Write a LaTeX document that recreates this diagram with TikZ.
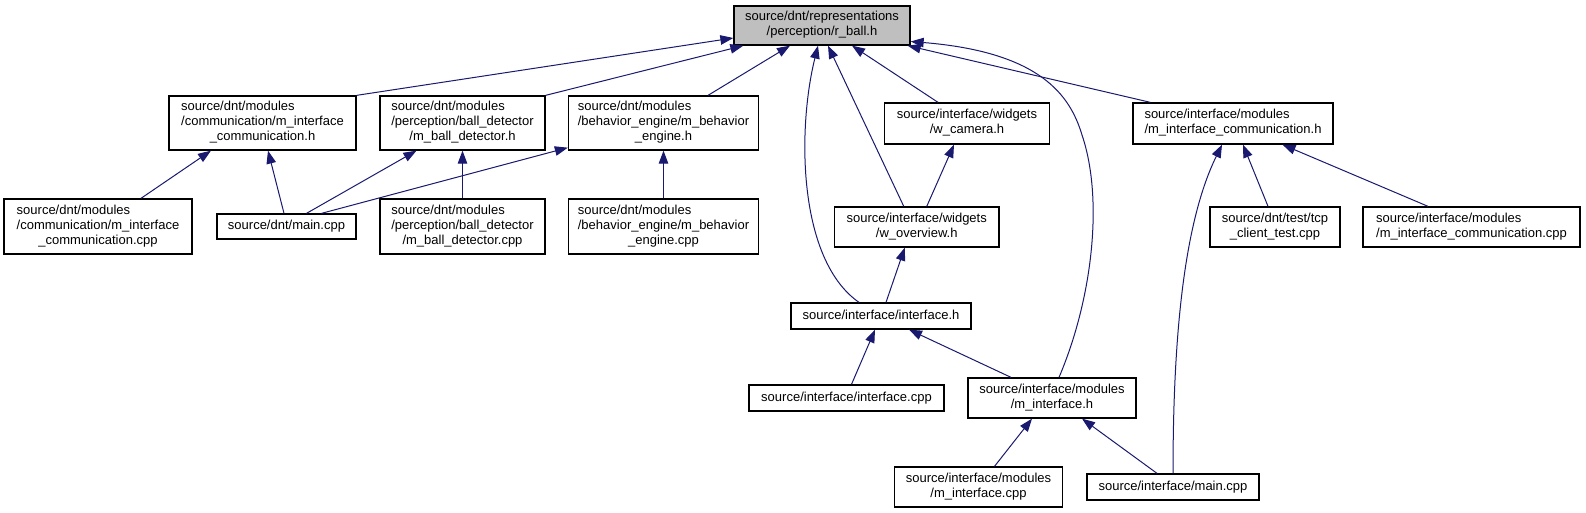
\documentclass[tikz,border=0pt]{standalone}
\usepackage{fontspec}
\setmainfont{Liberation Sans}
\usetikzlibrary{arrows.meta}
\definecolor{edgecol}{HTML}{191970}
\definecolor{rballfill}{HTML}{BFBFBF}
\newcommand{\dlab}[2]{\begin{tabular}{@{}l@{}}#1\\\multicolumn{1}{@{}c@{}}{#2}\end{tabular}}
\newcommand{\slab}[1]{\begin{tabular}{@{}c@{}}#1\end{tabular}}
\begin{document}
\begin{tikzpicture}[x=1pt,y=-1pt,
  box/.style={draw=black, line width=1.3pt, fill=white, inner sep=0pt, font=\fontsize{13}{15}\selectfont},
  dep/.style={draw=edgecol, line width=1pt, -{Triangle[length=13pt,width=9.5pt]}}]
\useasboundingbox (0,0) rectangle (1586,513);
% nodes
\node[box, fill=rballfill, minimum width=176pt, minimum height=39pt] (rball) at (822,25.5) {\dlab{source/dnt/representations}{/perception/r\_ball.h}};
\node[box, minimum width=187pt, minimum height=54pt] (commh) at (262.5,123) {\dlab{source/dnt/modules\\/communication/m\_interface}{\_communication.h}};
\node[box, minimum width=165pt, minimum height=54pt] (bdh) at (462.5,123) {\dlab{source/dnt/modules\\/perception/ball\_detector}{/m\_ball\_detector.h}};
\node[box, minimum width=190pt, minimum height=54pt] (behh) at (663.5,123) {\dlab{source/dnt/modules\\/behavior\_engine/m\_behavior}{\_engine.h}};
\node[box, minimum width=164.5pt, minimum height=41pt] (wcam) at (967,123.5) {\dlab{source/interface/widgets}{/w\_camera.h}};
\node[box, minimum width=200pt, minimum height=41pt] (mich) at (1233,123.5) {\dlab{source/interface/modules}{/m\_interface\_communication.h}};
\node[box, minimum width=188pt, minimum height=55pt] (commcpp) at (98,226.5) {\dlab{source/dnt/modules\\/communication/m\_interface}{\_communication.cpp}};
\node[box, minimum width=139pt, minimum height=25pt] (dntmain) at (286.5,226.5) {\slab{source/dnt/main.cpp}};
\node[box, minimum width=165pt, minimum height=55pt] (bdcpp) at (462.5,226.5) {\dlab{source/dnt/modules\\/perception/ball\_detector}{/m\_ball\_detector.cpp}};
\node[box, minimum width=190pt, minimum height=55pt] (behcpp) at (663.5,226.5) {\dlab{source/dnt/modules\\/behavior\_engine/m\_behavior}{\_engine.cpp}};
\node[box, minimum width=164.5pt, minimum height=40pt] (wover) at (916.75,227) {\dlab{source/interface/widgets}{/w\_overview.h}};
\node[box, minimum width=130pt, minimum height=40pt] (tcp) at (1275,227) {\dlab{source/dnt/test/tcp}{\_client\_test.cpp}};
\node[box, minimum width=217pt, minimum height=40pt] (miccpp) at (1471.5,227) {\dlab{source/interface/modules}{/m\_interface\_communication.cpp}};
\node[box, minimum width=180pt, minimum height=26pt] (ifh) at (881,316) {\slab{source/interface/interface.h}};
\node[box, minimum width=195pt, minimum height=26pt] (ifcpp) at (846.5,398) {\slab{source/interface/interface.cpp}};
\node[box, minimum width=168pt, minimum height=40pt] (mifh) at (1052,398) {\dlab{source/interface/modules}{/m\_interface.h}};
\node[box, minimum width=168pt, minimum height=40pt] (mifcpp) at (978.5,487) {\dlab{source/interface/modules}{/m\_interface.cpp}};
\node[box, minimum width=172pt, minimum height=26pt] (ifmain) at (1173,487) {\slab{source/interface/main.cpp}};
% edges to r_ball
\draw[dep] (commh.north east) -- ([yshift=-12.5pt]rball.west);
\draw[dep] (bdh.north east) -- ([xshift=10pt]rball.south west);
\draw[dep] ([xshift=44.5pt]behh.north) -- ([xshift=-32pt]rball.south);
\draw[dep] ([xshift=-22pt]ifh.north) .. controls (798,260) and (797,130) .. ([xshift=-4pt]rball.south);
\draw[dep] ([xshift=-13pt]wover.north) -- ([xshift=6pt]rball.south);
\draw[dep] ([xshift=-29pt]wcam.north) -- ([xshift=30pt]rball.south);
\draw[dep] ([xshift=7pt]mifh.north) .. controls (1092,300) and (1104,200) .. (1082,135) .. controls (1070,95) and (1040,52) .. ([yshift=-16pt]rball.east);
\draw[dep] ([xshift=18pt]mich.north west) -- ([xshift=-3pt]rball.south east);
% dnt modules
\draw[dep] ([xshift=43pt]commcpp.north) -- ([xshift=-51.5pt]commh.south);
\draw[dep] ([xshift=-2.5pt]dntmain.north) -- ([xshift=5.5pt]commh.south);
\draw[dep] ([xshift=20pt]dntmain.north) -- ([xshift=-46pt]bdh.south);
\draw[dep] ([xshift=35pt]dntmain.north) -- ([yshift=3pt]behh.south west);
\draw[dep] (bdcpp.north) -- (bdh.south);
\draw[dep] (behcpp.north) -- (behh.south);
% interface
\draw[dep] ([xshift=10pt]wover.north) -- ([xshift=-13pt]wcam.south);
\draw[dep] ([xshift=5pt]ifh.north) -- ([xshift=-12pt]wover.south);
\draw[dep] ([xshift=5pt]ifcpp.north) -- ([xshift=-6pt]ifh.south);
\draw[dep] ([xshift=-41pt]mifh.north) -- ([xshift=28pt]ifh.south);
\draw[dep] ([xshift=16pt]mifcpp.north) -- ([xshift=-20pt]mifh.south);
\draw[dep] ([xshift=-16pt]ifmain.north) -- ([xshift=30pt]mifh.south);
\draw[dep] (ifmain.north) .. controls (1173,330) and (1185,220) .. ([xshift=-11pt]mich.south);
\draw[dep] ([xshift=-7pt]tcp.north) -- ([xshift=10pt]mich.south);
\draw[dep] ([xshift=-43.5pt]miccpp.north) -- ([xshift=49.5pt]mich.south);
\end{tikzpicture}
\end{document}
